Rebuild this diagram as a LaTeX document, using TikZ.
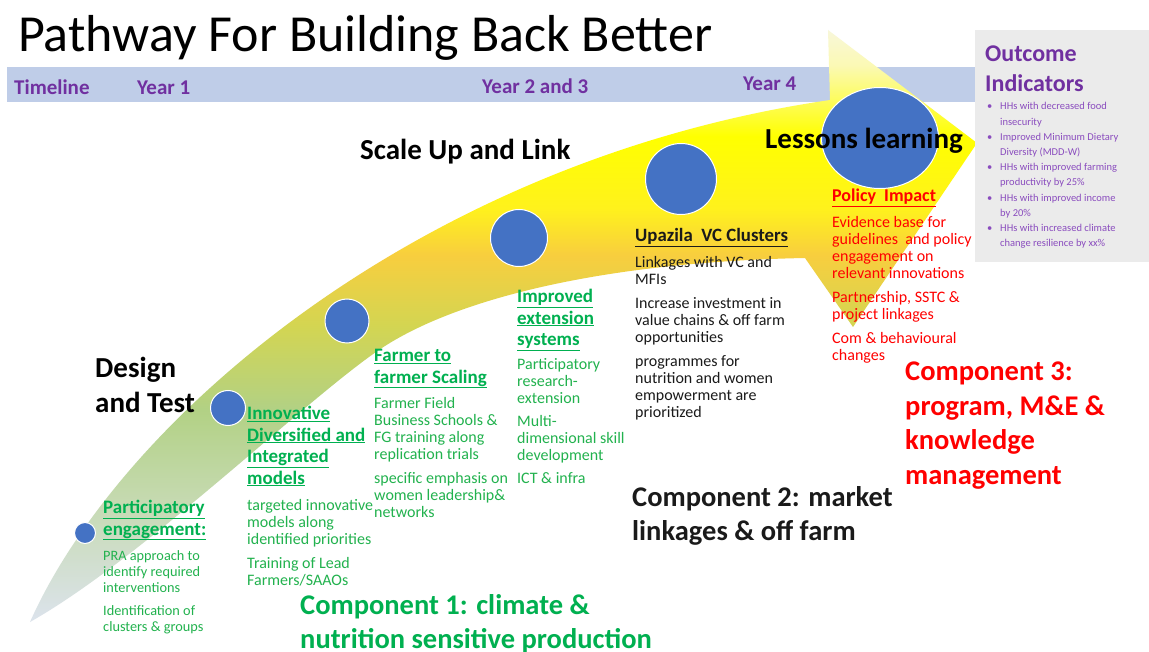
\documentclass[tikz,border=0pt]{standalone}
\usepackage{fontspec}
\setmainfont{Carlito}
\usetikzlibrary{shapes.geometric, positioning}

\definecolor{bandblue}{HTML}{BFCDE8}
\definecolor{tlpurple}{HTML}{7030A0}
\definecolor{listpurple}{HTML}{8A4CBE}
\definecolor{boxgrey}{HTML}{EBEBEB}
\definecolor{dotblue}{HTML}{4472C4}
\definecolor{compgreen}{HTML}{00B050}
\definecolor{txtgreen}{HTML}{22B24E}
\definecolor{txtred}{HTML}{FF0000}
\definecolor{txtdark}{HTML}{1A1A1A}

% colours of the sweeping pathway arrow, tail to head
\definecolor{shA}{HTML}{DCE3EC}
\definecolor{shB}{HTML}{C6DAB2}
\definecolor{shC}{HTML}{B2D184}
\definecolor{shD}{HTML}{D3D552}
\definecolor{shE}{HTML}{F8CE3E}
\definecolor{shF}{HTML}{FFF21C}
\definecolor{shG}{HTML}{FFFF00}
\definecolor{shH}{HTML}{FBF9B4}
\definecolor{shI}{HTML}{F8F7DA}

\pgfdeclareverticalshading{pathway}{100bp}{%
  color(0bp)=(shA); color(25bp)=(shA); color(35bp)=(shB);
  color(43bp)=(shC); color(50bp)=(shD); color(56bp)=(shE);
  color(60bp)=(shF); color(66bp)=(shG); color(72bp)=(shH);
  color(75bp)=(shI); color(100bp)=(shI)}

\newcommand{\bulletitem}{\makebox[13pt][l]{\textbullet}}
\newcommand{\bulletgap}{\hspace*{13pt}}

\tikzset{
    dot/.style={
           circle,
           fill=dotblue,
           draw=white, line width=1pt,
           inner sep=0pt,
           },
    timeline/.style={
           anchor=base west,
           inner sep=0pt,
           text=tlpurple,
           font=\fontsize{21}{22}\selectfont\bfseries,
           },
    stage/.style={
           inner sep=0pt,
           align=left,
           text=black,
           font=\fontsize{29}{35}\selectfont\bfseries,
           },
    head/.style={
           anchor=north west,
           inner sep=0pt,
           align=left,
           text=compgreen,
           font=\fontsize{19}{21.5}\selectfont\bfseries,
           },
    body/.style={
           anchor=north west,
           inner sep=0pt,
           align=left,
           text=txtgreen,
           font=\fontsize{16}{17}\selectfont,
           },
    component/.style={
           anchor=north west,
           inner sep=0pt,
           align=left,
           font=\fontsize{28.5}{34.5}\selectfont\bfseries,
           },
}

\begin{document}
\begin{tikzpicture}[x=1pt, y=-1pt]

 \useasboundingbox (0,0) rectangle (1149,652);
 \fill[white] (0,0) rectangle (1149,652);

 \node[anchor=base west,
  inner sep=0pt,
  font=\fontsize{52}{54}\selectfont] (TITLE) at (18,52)
 {%
  Pathway For Building Back Better
 };

 % timeline band
 \fill[bandblue] (7,67) rectangle (975,102);

 \node[timeline] (TIMELINE) at (14,95) {Timeline};
 \node[timeline] (YEAR_1) at (137,95) {Year 1};
 \node[timeline] (YEAR_23) at (482,94) {Year 2 and 3};
 \node[timeline] (YEAR_4) at (743,91) {Year 4};

 % the pathway arrow
 \shade[shading=pathway]
  (30,622) .. controls (120,420) and (420,160) .. (830,100)
  -- (828,30) -- (977,143) -- (853,327) -- (805,258)
  .. controls (600,262) and (450,300) .. (376,352)
  .. controls (300,405) and (140,560) .. (30,622) -- cycle;

 % outcome panel
 \fill[boxgrey] (975,30) rectangle (1149,262);

 \node[head,
  text=tlpurple,
  font=\fontsize{24}{30}\selectfont\bfseries] (OUTCOME) at (985,46)
 {%
  Outcome\\Indicators
 };

 \node[body,
  text=listpurple,
  font=\fontsize{10.5}{15.2}\selectfont,
  below=10pt of OUTCOME.south west,
  anchor=north west,
  xshift=2pt] (INDICATORS)
 {%
  \bulletitem HHs with decreased food\\
  \bulletgap insecurity\\
  \bulletitem Improved Minimum Dietary\\
  \bulletgap Diversity (MDD-W)\\
  \bulletitem HHs with improved farming\\
  \bulletgap productivity by 25\%\\
  \bulletitem HHs with improved income\\
  \bulletgap by 20\%\\
  \bulletitem HHs with increased climate\\
  \bulletgap change resilience by xx\%
 };

 % milestones along the pathway
 \node[dot, minimum size=21pt] (DOT_1) at (85,533) {};
 \node[dot, minimum size=35pt] (DOT_2) at (228,408) {};
 \node[dot, minimum size=44pt] (DOT_3) at (347,321) {};
 \node[dot, minimum size=57pt] (DOT_4) at (519,238) {};
 \node[dot, minimum size=71pt] (DOT_5) at (681,179) {};
 \node[dot, ellipse,
  minimum width=117pt,
  minimum height=101pt] (DOT_6) at (880,138) {};

 \node[stage, anchor=north west] (DESIGN) at (95,357)
 {%
  Design\\and Test
 };

 \node[stage, anchor=base west] (SCALE) at (360,160)
 {%
  Scale Up and Link
 };

 \node[stage, anchor=base west] (LESSONS) at (765,149)
 {%
  Lessons learning
 };

 % participatory engagement
 \node[head] (PART_HEAD) at (103,500)
 {%
  \underline{Participatory}\\\underline{engagement:}
 };

 \node[body,
  font=\fontsize{14.3}{16}\selectfont,
  below=10pt of PART_HEAD.south west,
  anchor=north west] (PART_BODY)
 {%
  PRA approach to\\identify required\\interventions\\[7pt]
  Identification of\\clusters \& groups
 };

 % innovative models
 \node[head] (MODEL_HEAD) at (247,406)
 {%
  \underline{Innovative}\\\underline{Diversified and}\\
  \underline{Integrated}\\\underline{models}
 };

 \node[body,
  below=13pt of MODEL_HEAD.south west,
  anchor=north west] (MODEL_BODY)
 {%
  targeted innovative\\models along\\identified priorities\\[7pt]
  Training of Lead\\Farmers/SAAOs
 };

 % farmer to farmer scaling
 \node[head] (SCALING_HEAD) at (374,349)
 {%
  \underline{Farmer to}\\\underline{farmer Scaling}
 };

 \node[body,
  below=9pt of SCALING_HEAD.south west,
  anchor=north west] (SCALING_BODY)
 {%
  Farmer Field\\Business Schools \&\\FG training along\\replication trials\\[7pt]
  specific emphasis on\\women leadership\&\\networks
 };

 % extension systems
 \node[head] (EXT_HEAD) at (517,289)
 {%
  \underline{Improved}\\\underline{extension}\\\underline{systems}
 };

 \node[body,
  below=8pt of EXT_HEAD.south west,
  anchor=north west] (EXT_BODY)
 {%
  Participatory\\research-\\extension\\[6pt]
  Multi-\\dimensional skill\\development\\[6pt]
  ICT \& infra
 };

 % value chain clusters
 \node[head,
  text=txtdark,
  font=\fontsize{18.8}{21}\selectfont\bfseries] (VC_HEAD) at (635,228)
 {%
  \underline{Upazila\ \ VC Clusters}
 };

 \node[body,
  text=txtdark,
  below=10pt of VC_HEAD.south west,
  anchor=north west] (VC_BODY)
 {%
  Linkages with VC and\\MFIs\\[7pt]
  Increase investment in\\value chains \& off farm\\opportunities\\[7pt]
  programmes for\\nutrition and women\\empowerment are\\prioritized
 };

 % policy impact
 \node[head,
  text=txtred,
  font=\fontsize{18}{21}\selectfont\bfseries] (POLICY_HEAD) at (832,189)
 {%
  \underline{Policy\ \ Impact}
 };

 \node[body,
  text=txtred,
  below=9pt of POLICY_HEAD.south west,
  anchor=north west] (POLICY_BODY)
 {%
  Evidence base for\\guidelines\ \ and policy\\engagement on\\relevant innovations\\[7pt]
  Partnership, SSTC \&\\project linkages\\[7pt]
  Com \& behavioural\\changes
 };

 % the three components
 \node[component, text=compgreen] (COMP_1) at (300,594)
 {%
  Component 1: climate \&\\nutrition sensitive production
 };

 \node[component, text=txtdark] (COMP_2) at (632,486)
 {%
  Component 2: market\\linkages \& off farm
 };

 \node[component, text=txtred] (COMP_3) at (905,362)
 {%
  Component 3:\\program, M\&E \&\\knowledge\\management
 };

\end{tikzpicture}
\end{document}
